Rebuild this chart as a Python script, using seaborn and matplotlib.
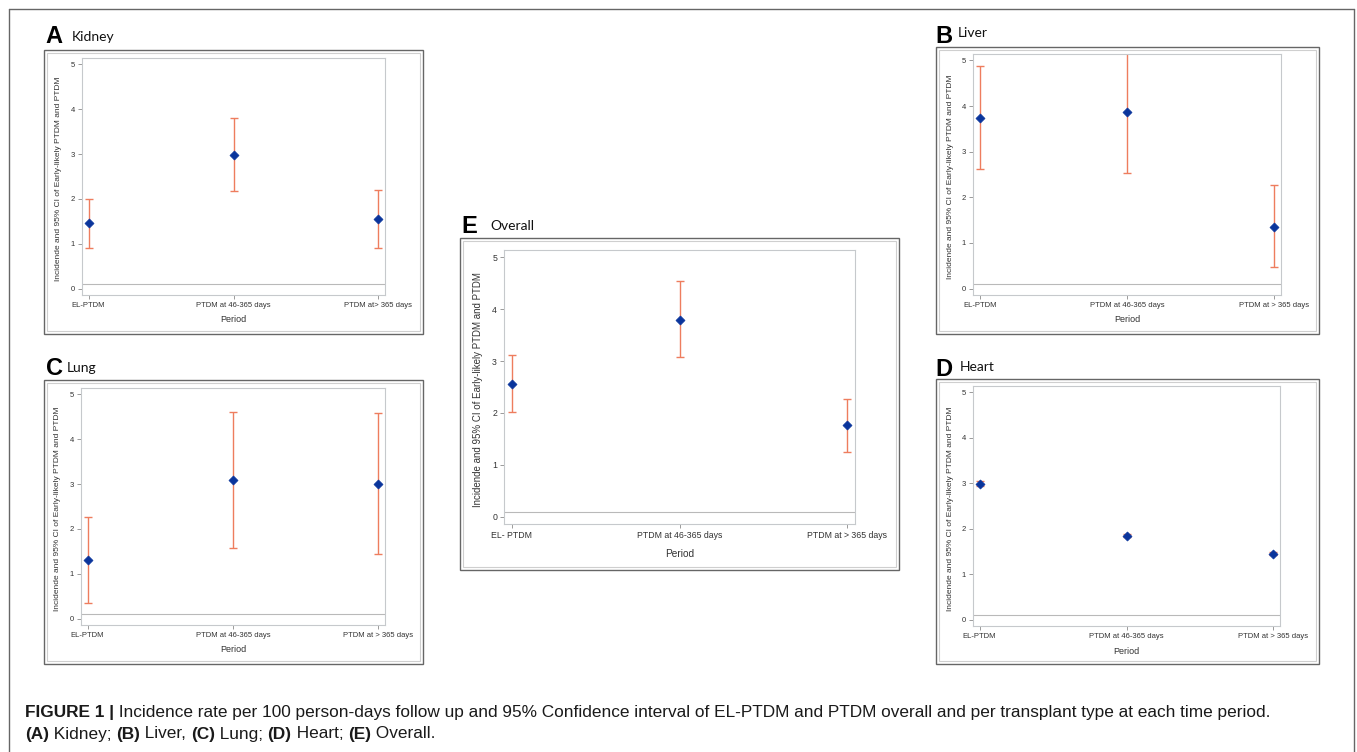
import numpy as np
import pandas as pd
import matplotlib
matplotlib.use("Agg")
import matplotlib.pyplot as plt
from matplotlib.patches import Rectangle
import seaborn as sns

sns.set_style("ticks")
plt.rcParams['font.family'] = ['Liberation Sans', 'DejaVu Sans']

# tick labels (as written on each panel)
periods = ["EL-PTDM", "PTDM at 46-365 days", "PTDM at > 365 days"]
periods_kidney = ["EL-PTDM", "PTDM at 46-365 days", "PTDM at> 365 days"]
periods_overall = ["EL- PTDM", "PTDM at 46-365 days", "PTDM at > 365 days"]

# incidence and 95% CI
kidney_rate = [1.47, 2.99, 1.55]
kidney_low = [0.91, 2.18, 0.90]
kidney_high = [2.00, 3.80, 2.20]

liver_rate = [3.74, 3.88, 1.36]
liver_low = [2.61, 2.54, 0.47]
liver_high = [4.88, 5.25, 2.26]

lung_rate = [1.30, 3.10, 3.00]
lung_low = [0.34, 1.57, 1.44]
lung_high = [2.27, 4.61, 4.59]

heart_rate = [2.98, 1.85, 1.45]
heart_low = [2.93, 1.82, 1.42]
heart_high = [3.04, 1.89, 1.49]

overall_rate = [2.56, 3.80, 1.76]
overall_low = [2.02, 3.07, 1.25]
overall_high = [3.12, 4.54, 2.27]

ylab = "Incidende and 95% CI of Early-likely PTDM and PTDM"
navy = "#0a359c"
salmon = "#ee7d5e"

W, H = 1357, 752
fig = plt.figure(figsize=(W / 100, H / 100), dpi=100)


def rect(l, t, r, b):
    return [l / W, 1 - b / H, (r - l) / W, (b - t) / H]


def panel(box, area, letter, lxy, title, txy, labels, rate, low, high, big=False):
    l, t, r, b = box
    fig.patches.append(Rectangle((l / W, 1 - b / H), (r - l) / W, (b - t) / H,
                                 transform=fig.transFigure, fill=False,
                                 ec="#666666", lw=1.0))
    fig.patches.append(Rectangle(((l + 3) / W, 1 - (b - 3) / H), (r - l - 6) / W,
                                 (b - t - 6) / H, transform=fig.transFigure,
                                 fill=False, ec="#cfcfcf", lw=0.8))
    fig.text(lxy[0] / W, 1 - lxy[1] / H, letter, fontsize=17, fontweight="bold",
             ha="left", va="baseline", color="black")
    fig.text(txy[0] / W, 1 - txy[1] / H, title, fontsize=10, family=["Lato", "DejaVu Sans"],
             ha="left", va="center", color="#111111")

    ax = fig.add_axes(rect(*area))
    rate = np.array(rate)
    err = [rate - np.array(low), np.array(high) - rate]
    sns.scatterplot(x=labels, y=rate, marker="D", s=22, color=navy,
                    edgecolor=navy, linewidth=0.4, zorder=3, ax=ax)
    ax.errorbar(labels, rate, yerr=err, fmt="none", ecolor=salmon,
                elinewidth=1.0, capsize=3, capthick=1.0, zorder=2)
    ax.axhline(0.1, color="#b9b9b9", lw=0.8, zorder=1)

    ax.set_xlim(-0.045, 2.045)
    ax.set_ylim(-0.14, 5.14)
    ax.set_yticks([0, 1, 2, 3, 4, 5])
    for s in ax.spines.values():
        s.set_visible(True)
        s.set_color("#c6c9cc")
        s.set_linewidth(0.8)
    tsize = 6.3 if big else 5.5
    ax.tick_params(direction="out", length=3, width=0.6, color="#8a8a8a",
                   labelsize=tsize, labelcolor="#333333", pad=2)
    ax.set_ylabel(ylab, fontsize=7.0 if big else 6.0, color="#333333", va="center")
    ax.set_xlabel("Period", fontsize=7.3 if big else 6.5, color="#333333", va="center")
    pw, ph = area[2] - area[0], area[3] - area[1]
    ax.yaxis.set_label_coords(-23 / pw if not big else -26 / pw, 0.49)
    ax.xaxis.set_label_coords(0.5, -(25 if not big else 30) / ph)
    return ax


panel((44, 50, 423, 334), (82, 58, 385, 295), "A", (45, 43), "Kidney", (72, 37),
      periods_kidney, kidney_rate, kidney_low, kidney_high)
panel((936, 47, 1319, 334), (973, 54, 1281, 295), "B", (935, 43), "Liver", (958, 33),
      periods, liver_rate, liver_low, liver_high)
panel((44, 380, 423, 664), (81, 388, 385, 625), "C", (46, 375), "Lung", (67, 368),
      periods, lung_rate, lung_low, lung_high)
panel((936, 379, 1319, 664), (973, 386, 1280, 626), "D", (935, 376), "Heart", (960, 367),
      periods, heart_rate, heart_low, heart_high)
panel((460, 238, 899, 570), (504, 250, 855, 524), "E", (461, 233), "Overall", (490, 226),
      periods_overall, overall_rate, overall_low, overall_high, big=True)

# page border (open at the bottom)
for xs, ys in [((9, 9), (9, 760)), ((1354, 1354), (9, 760)), ((9, 1354), (9, 9))]:
    fig.add_artist(plt.Line2D([x / W for x in xs], [1 - y / H for y in ys],
                              color="#666666", lw=1.0))

# caption with bold pieces
renderer = fig.canvas.get_renderer()


def caption_line(y, parts, x0=25, size=12.4):
    x = x0
    for txt, bold in parts:
        t = fig.text(x / W, 1 - y / H, txt, fontsize=size, va="center", ha="left",
                     fontweight="bold" if bold else "normal", color="#1a1a1a")
        x += t.get_window_extent(renderer).width


caption_line(712, [("FIGURE 1 |", True),
                   (" Incidence rate per 100 person-days follow up and 95% Confidence interval "
                    "of EL-PTDM and PTDM overall and per transplant type at each time period.", False)])
caption_line(734, [("(A)", True), (" Kidney; ", False), ("(B)", True), (" Liver, ", False),
                   ("(C)", True), (" Lung; ", False), ("(D)", True), (" Heart; ", False),
                   ("(E)", True), (" Overall.", False)])

fig.savefig("out.png", dpi=100)
